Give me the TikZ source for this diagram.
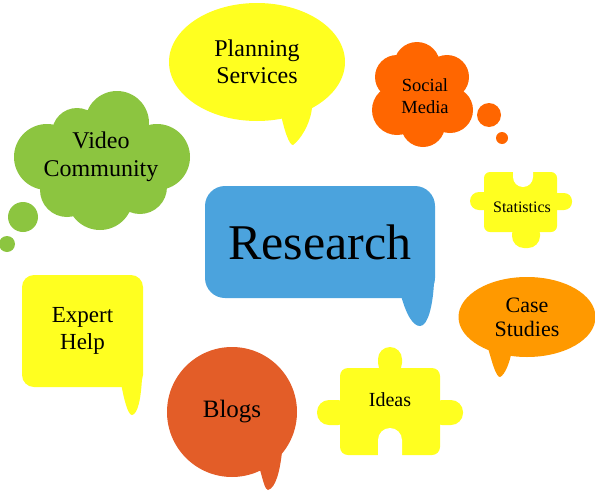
\documentclass[tikz,border=0pt]{standalone}
\usepackage{fontspec}
\setmainfont{Liberation Serif}
\usepackage{tikz}
\usetikzlibrary{shapes.geometric}

\definecolor{bubyellow}{HTML}{FFFF20}
\definecolor{resblue}{HTML}{4BA3DD}
\definecolor{vidgreen}{HTML}{8CC540}
\definecolor{socorange}{HTML}{FF6600}
\definecolor{caseorange}{HTML}{FF9900}
\definecolor{blogred}{HTML}{E35D28}

\begin{document}
\begin{tikzpicture}[
  x=1pt, y=-1pt,
  every node/.style={align=center, text=black, inner sep=0pt},
  bubble/.style={draw=none, inner sep=0pt},
  cloudtext/.style={font=\fontsize{24}{28}\selectfont}
]
\useasboundingbox (0,0) rectangle (595,501);

% ------------------------------------------------------------
% Speech bubbles (ellipses, circle, rounded boxes) with tails
% ------------------------------------------------------------
\fill[bubyellow] (280,110) .. controls (284,130) and (289,145) .. (293,145)
  .. controls (300,140) and (310,125) .. (312,108) -- cycle;
\node[bubble, ellipse, fill=bubyellow, minimum width=176pt, minimum height=118pt,
  font=\fontsize{24}{27}\selectfont] (plan) at (257,62) {Planning\\Services};

\fill[resblue] (400,292) .. controls (406,315) and (413,326) .. (420,326)
  .. controls (428,326) and (433,305) .. (434,282) -- cycle;
\node[bubble, fill=resblue, rounded corners=20pt, minimum width=230pt, minimum height=112pt,
  font=\fontsize{50}{54}\selectfont] (research) at (320,242) {Research};

\fill[bubyellow] (121,383) .. controls (124,400) and (128,415) .. (132,415)
  .. controls (138,414) and (141,398) .. (142,378) -- cycle;
\node[bubble, fill=bubyellow, rounded corners=12pt, minimum width=121pt, minimum height=112pt,
  font=\fontsize{23}{27}\selectfont] (expert) at (82.5,331) {Expert\\Help};

\fill[caseorange] (488,348) .. controls (492,362) and (496,377) .. (500,377)
  .. controls (505,375) and (510,362) .. (512,350) -- cycle;
\node[bubble, ellipse, fill=caseorange, minimum width=137pt, minimum height=80pt,
  font=\fontsize{22}{24}\selectfont] (case) at (527,317) {Case\\Studies};

\fill[blogred] (260,470) .. controls (263,480) and (265,490) .. (268,490)
  .. controls (276,488) and (280,470) .. (282,452) -- cycle;
\node[bubble, circle, fill=blogred, minimum size=130pt,
  font=\fontsize{25}{28}\selectfont] (blogs) at (232,412) {Blogs};

% ------------------------------------------------------------
% Thought clouds
% ------------------------------------------------------------
\fill[socorange] (417,65) circle (23) (397,77) circle (22) (397,110) circle (25)
  (447,77) circle (22) (450,110) circle (23) (423,125) circle (22) (423,95) circle (30);
\fill[socorange] (489,115) circle (12) (502,138) circle (6);
\node[font=\fontsize{18.5}{22}\selectfont] (social) at (425,96) {Social\\Media};

\fill[vidgreen] (117,123) circle (32) (77,133) circle (25) (47,157) circle (33)
  (157,157) circle (33) (100,197) circle (33) (67,190) circle (27)
  (140,187) circle (27) (100,160) circle (45);
\fill[vidgreen] (23,217) circle (15) (7,244) circle (8);
\node[cloudtext] (video) at (101,157) {Video\\Community};

% ------------------------------------------------------------
% Puzzle pieces
% ------------------------------------------------------------
\fill[bubyellow, rounded corners=6pt] (484,172) rectangle (557,232);
\fill[bubyellow, rounded corners=9pt] (470,192) rectangle (495,210);
\fill[bubyellow, rounded corners=8pt] (546,193) rectangle (572,210);
\fill[bubyellow, rounded corners=12pt] (512,222) rectangle (540,248);
\fill[white, rounded corners=10pt] (513,160) rectangle (533,187);
\node[font=\fontsize{16}{18}\selectfont] (stats) at (522,207) {Statistics};

\fill[bubyellow, rounded corners=8pt] (340,368) rectangle (440,455);
\fill[bubyellow, rounded corners=12pt] (378,347) rectangle (402,375);
\fill[bubyellow, rounded corners=12pt] (317,400) rectangle (350,425);
\fill[bubyellow, rounded corners=12pt] (430,400) rectangle (463,425);
\fill[white, rounded corners=12pt] (378,428) rectangle (402,470);
\node[font=\fontsize{20}{22}\selectfont] (ideas) at (390,400) {Ideas};

\end{tikzpicture}
\end{document}
